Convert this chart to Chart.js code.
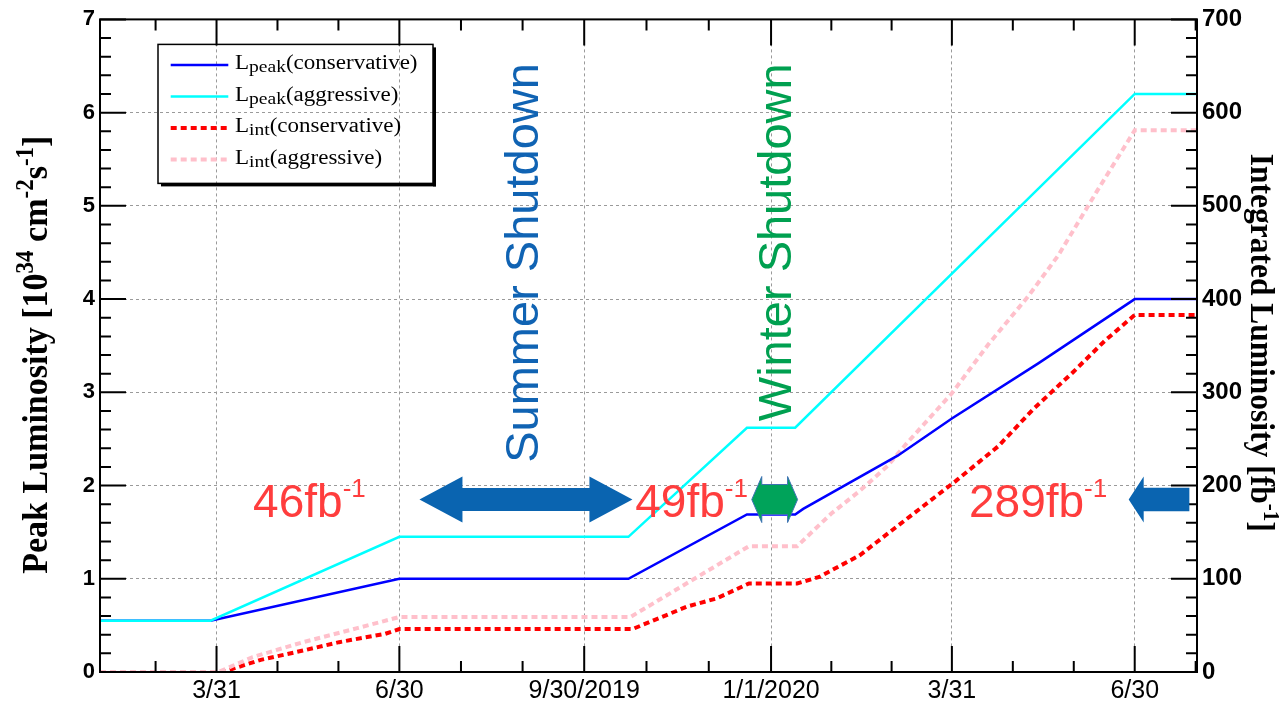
<!DOCTYPE html>
<html>
<head>
<meta charset="utf-8">
<title>Peak and integrated luminosity</title>
<script src="https://cdn.jsdelivr.net/npm/chart.js@4.4.0/dist/chart.umd.min.js"></script>
<style>
  html, body { margin: 0; padding: 0; background: #fff; }
  canvas { display: block; }
</style>
</head>
<body>
<canvas id="lumiChart" width="1280" height="702"></canvas>
<script>
// x values are days counted from 1 Jan 2019 (= day 0)
const dayMin = 31;   // 1 Feb 2019
const dayMax = 577;  // 31 Jul 2020
const tickDays = [89, 180, 272, 365, 455, 546];
const tickLabels = ['3/31', '6/30', '9/30/2019', '1/1/2020', '3/31', '6/30'];

// L_peak conservative [10^34 cm^-2 s^-1]
const peakConsDays = [31, 86, 180, 294, 353, 377, 381, 428, 455, 498, 546, 577];
const peakConsVals = [0.55, 0.55, 1.0, 1.0, 1.69, 1.69, 1.75, 2.32, 2.72, 3.31, 4.0, 4.0];

// L_peak aggressive
const peakAggrDays = [31, 86, 180, 294, 353, 377, 546, 577];
const peakAggrVals = [0.55, 0.55, 1.45, 1.45, 2.62, 2.62, 6.2, 6.2];

// L_int conservative [fb^-1]
const intConsDays = [31, 92, 111, 132, 150, 173, 180, 296, 323, 338, 354, 378, 389, 409, 427, 457, 478, 496, 515, 531, 546, 577];
const intConsVals = [0, 0, 13, 23, 32, 41, 46, 46, 70, 79, 95, 95, 102, 125, 155, 205, 242, 283, 321, 355, 383, 383];

// L_int aggressive
const intAggrDays = [31, 90, 107, 132, 159, 180, 295, 354, 378, 395, 409, 423, 432, 455, 473, 493, 508, 527, 546, 577];
const intAggrVals = [0, 0, 16, 32, 47, 59, 59, 135, 135, 170, 194, 221, 244, 299, 351, 403, 447, 515, 581, 581];

// legend text pieces: main letter, subscript, rest
const legendMain = ['L', 'L', 'L', 'L'];
const legendSub = ['peak', 'peak', 'int', 'int'];
const legendTail = ['(conservative)', '(aggressive)', '(conservative)', '(aggressive)'];

// integrated luminosity gained per running period [fb^-1]
const gainValues = ['46', '49', '289'];

function toPoints(days, vals) {
    return days.map((d, i) => ({ x: d, y: vals[i] }));
}

const sansFont = '"Liberation Sans", Arial, sans-serif';
const serifFont = '"Liberation Serif", "Times New Roman", serif';

// draw a run of text pieces (for super/subscripts), returns width
function richWidth(ctx, parts) {
    let w = 0;
    parts.forEach(p => { ctx.font = p.font; w += ctx.measureText(p.text).width; });
    return w;
}
function drawRich(ctx, parts, x, y) {
    parts.forEach(p => {
        ctx.font = p.font;
        ctx.fillText(p.text, x, y + (p.dy || 0));
        x += ctx.measureText(p.text).width;
    });
}

// ROOT style frame with inward ticks on all four sides
const rootFrame = {
    id: 'rootFrame',
    afterDatasetsDraw(chart) {
        const { ctx, chartArea: a, scales } = chart;
        ctx.save();
        ctx.strokeStyle = '#000';
        ctx.lineCap = 'butt';

        // x ticks (majors at dates, minors at thirds)
        const minors = [];
        for (let i = 0; i < tickDays.length - 1; i++) {
            const st = (tickDays[i + 1] - tickDays[i]) / 3;
            minors.push(tickDays[i] + st, tickDays[i] + 2 * st);
        }
        const firstStep = (tickDays[1] - tickDays[0]) / 3;
        const lastStep = (tickDays[tickDays.length - 1] - tickDays[tickDays.length - 2]) / 3;
        for (let k = 1; k <= 2; k++) {
            if (tickDays[0] - k * firstStep >= dayMin) minors.push(tickDays[0] - k * firstStep);
            if (tickDays[tickDays.length - 1] + k * lastStep <= dayMax) minors.push(tickDays[tickDays.length - 1] + k * lastStep);
        }
        ctx.lineWidth = 2;
        ctx.beginPath();
        tickDays.forEach(d => {
            const px = scales.x.getPixelForValue(d);
            ctx.moveTo(px, a.bottom); ctx.lineTo(px, a.bottom - 26);
            ctx.moveTo(px, a.top); ctx.lineTo(px, a.top + 26);
        });
        minors.forEach(d => {
            const px = scales.x.getPixelForValue(d);
            ctx.moveTo(px, a.bottom); ctx.lineTo(px, a.bottom - 11);
            ctx.moveTo(px, a.top); ctx.lineTo(px, a.top + 11);
        });
        // left axis: majors every 1, minors every 0.2
        for (let i = 0; i <= 35; i++) {
            const py = scales.y.getPixelForValue(i * 0.2);
            const len = i % 5 === 0 ? 26 : 11;
            ctx.moveTo(a.left, py); ctx.lineTo(a.left + len, py);
        }
        // right axis: majors every 100, minors every 20
        for (let i = 0; i <= 35; i++) {
            const py = scales.y2.getPixelForValue(i * 20);
            const len = i % 5 === 0 ? 26 : 11;
            ctx.moveTo(a.right, py); ctx.lineTo(a.right - len, py);
        }
        ctx.stroke();

        ctx.lineWidth = 2;
        ctx.strokeRect(a.left, a.top, a.right - a.left, a.bottom - a.top);
        ctx.restore();
    }
};

// shutdown labels, arrows and integrated-luminosity numbers
const overlays = {
    id: 'overlays',
    afterDatasetsDraw(chart) {
        const { ctx, scales } = chart;
        const X = d => scales.x.getPixelForValue(d);
        const Y = v => scales.y.getPixelForValue(v);
        ctx.save();

        function arrow(x1, x2, y, hl, hh, sh, both, fill, stroke) {
            ctx.beginPath();
            ctx.moveTo(x1, y);
            ctx.lineTo(x1 + hl, y - hh);
            ctx.lineTo(x1 + hl, y - sh);
            if (both) {
                ctx.lineTo(x2 - hl, y - sh);
                ctx.lineTo(x2 - hl, y - hh);
                ctx.lineTo(x2, y);
                ctx.lineTo(x2 - hl, y + hh);
                ctx.lineTo(x2 - hl, y + sh);
            } else {
                ctx.lineTo(x2, y - sh);
                ctx.lineTo(x2, y + sh);
            }
            ctx.lineTo(x1 + hl, y + sh);
            ctx.lineTo(x1 + hl, y + hh);
            ctx.closePath();
            ctx.fillStyle = fill;
            ctx.fill();
            if (stroke) {
                ctx.strokeStyle = stroke;
                ctx.lineWidth = 1;
                ctx.stroke();
            }
        }
        const ay = Y(1.85);
        arrow(X(190), X(296), ay, 43, 23, 11.5, true, '#0a64b0');
        arrow(X(355.4), X(378.2), ay, 10, 23, 15, true, '#00a35a', '#3d72b3');
        arrow(X(543), X(573.2), ay, 15, 23, 11.7, false, '#0a64b0');

        // numbers with fb^-1
        const gainDays = [107.2, 297.4, 463.5];
        ctx.fillStyle = '#ff3d3d';
        ctx.textBaseline = 'alphabetic';
        ctx.textAlign = 'left';
        gainValues.forEach((g, i) => {
            drawRich(ctx, [
                { text: g + 'fb', font: '46px ' + sansFont },
                { text: '-1', font: '26px ' + sansFont, dy: -20 }
            ], X(gainDays[i]), Y(1.66));
        });

        // rotated shutdown labels
        function vtext(txt, x, y, color) {
            ctx.save();
            ctx.translate(x, y);
            ctx.rotate(-Math.PI / 2);
            ctx.font = '47px ' + sansFont;
            ctx.fillStyle = color;
            ctx.fillText(txt, 0, 0);
            ctx.restore();
        }
        vtext('Summer Shutdown', X(248.8), Y(2.244), '#1063b3');
        vtext('Winter Shutdown', X(374.9), Y(2.69), '#00a050');
        ctx.restore();
    }
};

// axis titles and legend box (serif, ROOT style, slightly wide)
const stretch = 1.15;
const titlesAndLegend = {
    id: 'titlesAndLegend',
    afterDraw(chart) {
        const { ctx, chartArea: a } = chart;
        ctx.save();
        ctx.fillStyle = '#000';
        ctx.textBaseline = 'alphabetic';
        ctx.textAlign = 'left';

        const big = 'bold 34px ' + serifFont;
        const sup = 'bold 23px ' + serifFont;
        const leftTitle = [
            { text: 'Peak Luminosity [10', font: big },
            { text: '34', font: sup, dy: -13 },
            { text: ' cm', font: big },
            { text: '-2', font: sup, dy: -13 },
            { text: 's', font: big },
            { text: '-1', font: sup, dy: -13 },
            { text: ']', font: big }
        ];
        const bigR = 'bold 31.5px ' + serifFont;
        const supR = 'bold 21px ' + serifFont;
        const rightTitle = [
            { text: 'Integrated Luminosity [fb', font: bigR },
            { text: '-1', font: supR, dy: -12 },
            { text: ']', font: bigR }
        ];
        const midY = (a.top + a.bottom) / 2;

        ctx.save();
        ctx.translate(a.left - 53, midY + 9);
        ctx.rotate(-Math.PI / 2);
        ctx.scale(1, 1.05);
        drawRich(ctx, leftTitle, -richWidth(ctx, leftTitle) / 2, 0);
        ctx.restore();

        ctx.save();
        ctx.translate(a.right + 54, midY - 3);
        ctx.rotate(Math.PI / 2);
        ctx.scale(1, 1.05);
        drawRich(ctx, rightTitle, -richWidth(ctx, rightTitle) / 2, 0);
        ctx.restore();

        // legend
        const x0 = a.left + 58, y0 = a.top + 25, w = 275, h = 139;
        ctx.fillRect(x0 + 3, y0 + h, w, 3);
        ctx.fillRect(x0 + w, y0 + 3, 3, h);
        ctx.strokeStyle = '#000';
        ctx.lineWidth = 1.5;
        ctx.strokeRect(x0, y0, w, h);

        const order = [0, 1, 2, 3];
        order.forEach(i => {
            const ds = chart.data.datasets[i];
            const ry = y0 + 20.5 + i * 31.5;
            ctx.save();
            ctx.strokeStyle = ds.borderColor;
            ctx.lineWidth = ds.borderWidth;
            ctx.setLineDash(ds.borderDash || []);
            ctx.beginPath();
            ctx.moveTo(x0 + 12.7, ry);
            ctx.lineTo(x0 + 70.3, ry);
            ctx.stroke();
            ctx.restore();

            ctx.save();
            ctx.translate(x0 + 77, ry + 4.5);
            ctx.scale(stretch, 1);
            drawRich(ctx, [
                { text: legendMain[i], font: '20px ' + serifFont },
                { text: legendSub[i], font: '17px ' + serifFont, dy: 3 },
                { text: legendTail[i], font: '20px ' + serifFont }
            ], 0, 0);
            ctx.restore();
        });
        ctx.restore();
    }
};

Chart.defaults.color = '#000';

const gridColor = '#9a9a9a';

const chart = new Chart(document.getElementById('lumiChart'), {
    type: 'line',
    data: {
        datasets: [
            {
                label: 'Lpeak(conservative)',
                data: toPoints(peakConsDays, peakConsVals),
                yAxisID: 'y',
                borderColor: '#0000ff',
                borderWidth: 2.5,
                order: 1
            },
            {
                label: 'Lpeak(aggressive)',
                data: toPoints(peakAggrDays, peakAggrVals),
                yAxisID: 'y',
                borderColor: '#00ffff',
                borderWidth: 2.5,
                order: 0
            },
            {
                label: 'Lint(conservative)',
                data: toPoints(intConsDays, intConsVals),
                yAxisID: 'y2',
                borderColor: '#ff0000',
                borderWidth: 4,
                borderDash: [6, 4],
                order: 3
            },
            {
                label: 'Lint(aggressive)',
                data: toPoints(intAggrDays, intAggrVals),
                yAxisID: 'y2',
                borderColor: '#ffc0cb',
                borderWidth: 4,
                borderDash: [6, 4],
                order: 2
            }
        ]
    },
    options: {
        responsive: false,
        animation: false,
        devicePixelRatio: 1,
        layout: { padding: { top: 17, left: 0, right: 0, bottom: 0 } },
        elements: {
            point: { radius: 0, hoverRadius: 0 },
            line: { tension: 0, fill: false, borderCapStyle: 'butt' }
        },
        plugins: {
            legend: { display: false },
            title: { display: false },
            tooltip: { enabled: false }
        },
        scales: {
            x: {
                type: 'linear',
                position: 'bottom',
                min: dayMin,
                max: dayMax,
                afterBuildTicks: s => { s.ticks = tickDays.map(v => ({ value: v })); },
                afterFit: s => { s.height = 30; },
                ticks: {
                    autoSkip: false,
                    maxRotation: 0,
                    padding: 4,
                    font: { family: sansFont, size: 25 },
                    callback: v => tickLabels[tickDays.indexOf(v)]
                },
                grid: { color: gridColor, lineWidth: 1, drawTicks: false },
                border: { display: false, dash: [3, 3] }
            },
            y: {
                position: 'left',
                min: 0,
                max: 7,
                afterFit: s => { s.width = 100; },
                ticks: {
                    stepSize: 1,
                    padding: 5,
                    font: { family: sansFont, size: 22, weight: 'bold' }
                },
                grid: { color: gridColor, lineWidth: 1, drawTicks: false },
                border: { display: false, dash: [3, 3] }
            },
            y2: {
                position: 'right',
                min: 0,
                max: 700,
                afterFit: s => { s.width = 83; },
                ticks: {
                    stepSize: 100,
                    padding: 5,
                    font: { family: sansFont, size: 24, weight: 'bold' }
                },
                grid: { drawOnChartArea: false, drawTicks: false },
                border: { display: false }
            }
        }
    },
    plugins: [rootFrame, overlays, titlesAndLegend]
});
</script>
</body>
</html>
